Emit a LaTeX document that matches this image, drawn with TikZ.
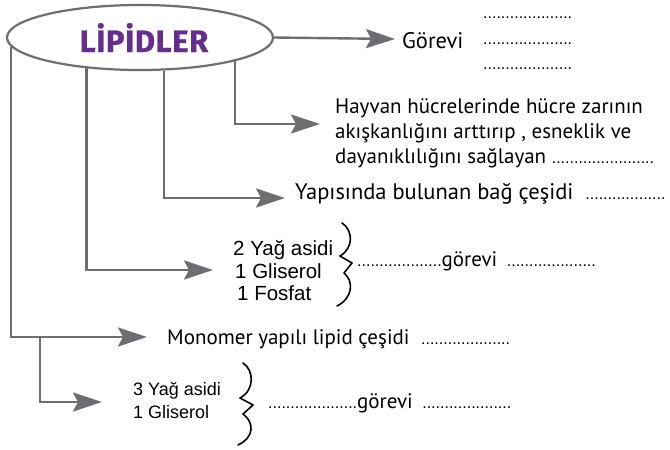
\documentclass[tikz,border=0pt]{standalone}
\usepackage{fontspec}
\setmainfont{PT Sans}
\newfontfamily\titlefont{Fira Sans}[FakeBold=0.8,LetterSpace=2]
\newfontfamily\arialfont{Liberation Sans}
\usetikzlibrary{shapes.geometric,arrows.meta,positioning}
\definecolor{lipmor}{RGB}{102,45,145}
\definecolor{okgri}{RGB}{109,110,113}
\newcommand\nokta[1]{{\arialfont\fontsize{16}{16}\selectfont #1}}
\tikzset{title node/.style={ellipse,draw=okgri,line width=2.2pt,fill=white,minimum width=266pt,minimum height=65pt,inner sep=0pt,text=lipmor,font=\titlefont\bfseries\fontsize{31}{31}\selectfont},
         text node/.style={inner sep=0pt,anchor=base west,font=\fontsize{21}{25}\selectfont},
         list node/.style={text node,font=\arialfont\fontsize{20.5}{20.5}\selectfont},
         small list/.style={text node,font=\arialfont\fontsize{18}{18}\selectfont},
         dot node/.style={inner sep=0pt,anchor=base west},
         link/.style={draw=okgri,line width=2.4pt,-{Stealth[length=29pt,width=19pt,inset=5pt]}},
         brace line/.style={black,line width=1.6pt,line cap=round,line join=round},
}

\begin{document}
\begin{tikzpicture}[x=1pt,y=-1pt]
% \draw[help lines,step=10] (0,0) grid (670,450);
\useasboundingbox (0,0) rectangle (670,450);

\node[title node] (lip) at (140,37.5) {\hspace*{8pt}LİPİDLER};

\node[text node,font=\fontsize{22.5}{25}\selectfont] (gor) at (402,48) {Görevi};
\node[dot node] (g1) at (483,18) {\nokta{....................}};
\node[dot node] (g2) at (483,44) {\nokta{....................}};
\node[dot node] (g3) at (483,69) {\nokta{....................}};

\node[text node,align=left,anchor=north west] (hay) at (335,98) {Hayvan hücrelerinde hücre zarının\\
akışkanlığını arttırıp , esneklik ve\\
dayanıklılığını sağlayan \nokta{.......................}};

\node[text node,font=\fontsize{22.5}{25}\selectfont] (yapi) at (295,199) {Yapısında bulunan bağ çeşidi\hspace{6pt} \nokta{..................}};

\node[list node] (y2a) at (233,255) {2 Yağ asidi};
\node[list node] (y2g) at (235,278) {1 Gliserol};
\node[list node] (y2f) at (237,300) {1 Fosfat};
\node[text node] (gv1) at (357,266) {\nokta{...................}görevi\hspace{4pt} \nokta{....................}};

\node[text node] (mono) at (167,344) {Monomer yapılı lipid çeşidi\hspace{6pt} \nokta{....................}};

\node[small list] (y3a) at (133,395) {3 Yağ asidi};
\node[small list] (y3g) at (133,418) {1 Gliserol};
\node[text node] (gv2) at (268,408) {\nokta{....................}görevi\hspace{4pt} \nokta{....................}};

% ok uclari
\coordinate (u1) at (395,39);
\coordinate (u2) at (320,124);
\coordinate (u3) at (285,198);
\coordinate (u4) at (213,270);
\coordinate (u5) at (147,337);
\coordinate (u6) at (102,402);
\coordinate (dal) at (40,337);

\draw[link] (lip.east) -- (u1);
\draw[link] (lip.-14.3) |- (u2);
\draw[link] (lip.-54.3) |- (u3);
\draw[link] (lip.-150.1) |- (u4);
\draw[link] (lip.-176.7) |- (u5);
\draw[link] (dal) |- (u6);

\draw[brace line] (342,223) .. controls (353,230) and (354,248) .. (340,256) -- (352,263) -- (344,273) .. controls (354,281) and (353,298) .. (337,306);
\draw[brace line] (243,363) .. controls (254,370) and (255,390) .. (240,398) -- (253,405) -- (243,414) .. controls (254,422) and (255,437) .. (238,445);

\end{tikzpicture}
\end{document}
